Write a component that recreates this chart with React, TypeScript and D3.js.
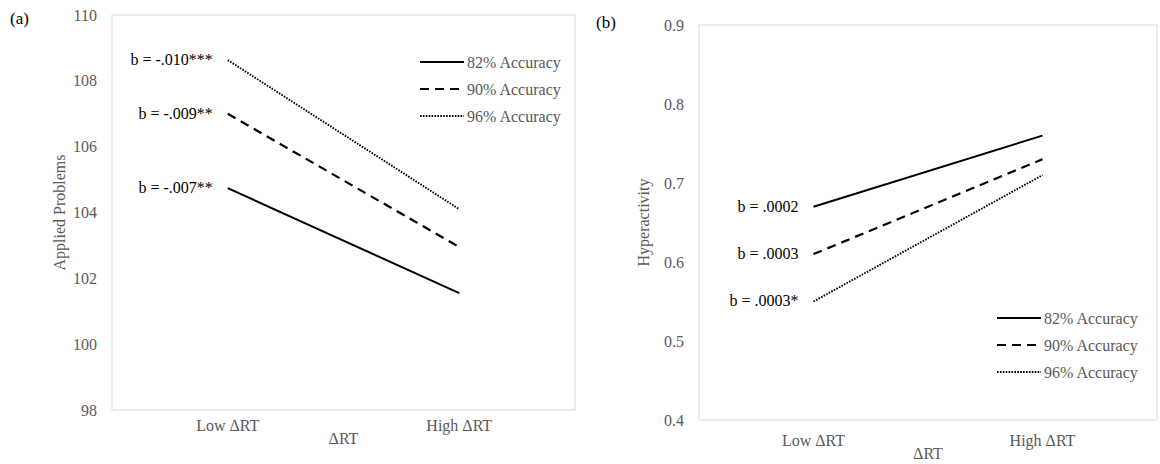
import React from 'react';
import * as d3 from 'd3';

// categories on the x axis
const categories = ['Low ΔRT', 'High ΔRT'];
const seriesNames = ['82% Accuracy', '90% Accuracy', '96% Accuracy'];

// panel (a) Applied Problems
const applied82 = [104.74, 101.55];
const applied90 = [107.0, 102.95];
const applied96 = [108.63, 104.1];
const appliedSlopes = ['b = -.007**', 'b = -.009**', 'b = -.010***'];
const appliedTicks = [98, 100, 102, 104, 106, 108, 110];

// panel (b) Hyperactivity
const hyper82 = [0.67, 0.76];
const hyper90 = [0.61, 0.73];
const hyper96 = [0.55, 0.71];
const hyperSlopes = ['b = .0002', 'b = .0003', 'b = .0003*'];
const hyperTicks = [0.4, 0.5, 0.6, 0.7, 0.8, 0.9];

const lineStyles = [
  { width: 2, dash: undefined },
  { width: 2.2, dash: '9,6' },
  { width: 1.9, dash: '1.6,1.3' },
];

const FONT = '"Liberation Serif", "Times New Roman", serif';
const GRAY = '#595959';
const FS = 16;

type PanelProps = {
  tag: string;
  tagPos: [number, number];
  left: number;
  right: number;
  top: number;
  bottom: number;
  domain: [number, number];
  ticks: number[];
  tickFormat: (v: number) => string;
  series: number[][];
  slopes: string[];
  yLabel: string;
  yLabelX: number;
  catY: number;
  xLabelY: number;
  legendX: number;
  legendY: number;
};

const Panel = (p: PanelProps) => {
  const x = d3.scalePoint<string>().domain(categories).range([p.left, p.right]).padding(0.5);
  const y = d3.scaleLinear().domain(p.domain).range([p.bottom, p.top]);
  const line = d3.line<number>()
    .x((_, i) => x(categories[i]) as number)
    .y(d => y(d));
  const midX = (p.left + p.right) / 2;

  return (
    <g fontFamily={FONT}>
      <text x={p.tagPos[0]} y={p.tagPos[1]} fontSize={17} fill="#000">{p.tag}</text>
      <rect x={p.left} y={p.top} width={p.right - p.left} height={p.bottom - p.top}
        fill="none" stroke="#d9d9d9" strokeWidth={1} />
      {p.ticks.map(t => (
        <text key={t} x={p.left - 15} y={y(t)} dy="0.35em" textAnchor="end"
          fontSize={FS} fill={GRAY}>{p.tickFormat(t)}</text>
      ))}
      {categories.map(c => (
        <text key={c} x={x(c)} y={p.catY} dy="0.35em" textAnchor="middle"
          fontSize={FS} fill={GRAY}>{c}</text>
      ))}
      <text x={midX} y={p.xLabelY} dy="0.35em" textAnchor="middle" fontSize={FS} fill={GRAY}>ΔRT</text>
      <text transform={`translate(${p.yLabelX},${(p.top + p.bottom) / 2}) rotate(-90)`}
        textAnchor="middle" dy="0.35em" fontSize={FS} fill={GRAY}>{p.yLabel}</text>
      {p.series.map((s, i) => (
        <path key={i} d={line(s) || ''} fill="none" stroke="#000"
          strokeWidth={lineStyles[i].width} strokeDasharray={lineStyles[i].dash} />
      ))}
      {p.series.map((s, i) => (
        <text key={i} x={(x(categories[0]) as number) - 15} y={y(s[0])} dy="0.3em"
          textAnchor="end" fontSize={FS} fill="#000">{p.slopes[i]}</text>
      ))}
      {seriesNames.map((n, i) => {
        const ly = p.legendY + i * 27;
        return (
          <g key={n}>
            <line x1={p.legendX} x2={p.legendX + 44} y1={ly} y2={ly} stroke="#000"
              strokeWidth={lineStyles[i].width} strokeDasharray={lineStyles[i].dash} />
            <text x={p.legendX + 47} y={ly} dy="0.35em" fontSize={FS} fill={GRAY}>{n}</text>
          </g>
        );
      })}
    </g>
  );
};

export default function App() {
  return (
    <svg width={1160} height={464} style={{ position: 'absolute', left: 0, top: 0, background: '#fff' }}>
      <Panel
        tag="(a)" tagPos={[10, 24]}
        left={112} right={575} top={15} bottom={410}
        domain={[98, 110]} ticks={appliedTicks} tickFormat={v => d3.format('d')(v)}
        series={[applied82, applied90, applied96]} slopes={appliedSlopes}
        yLabel="Applied Problems" yLabelX={59}
        catY={425} xLabelY={438}
        legendX={420} legendY={62}
      />
      <Panel
        tag="(b)" tagPos={[596, 28]}
        left={699} right={1157} top={25} bottom={420}
        domain={[0.4, 0.9]} ticks={hyperTicks} tickFormat={v => d3.format('.1f')(v)}
        series={[hyper82, hyper90, hyper96]} slopes={hyperSlopes}
        yLabel="Hyperactivity" yLabelX={643}
        catY={440} xLabelY={453}
        legendX={997} legendY={318}
      />
    </svg>
  );
}
